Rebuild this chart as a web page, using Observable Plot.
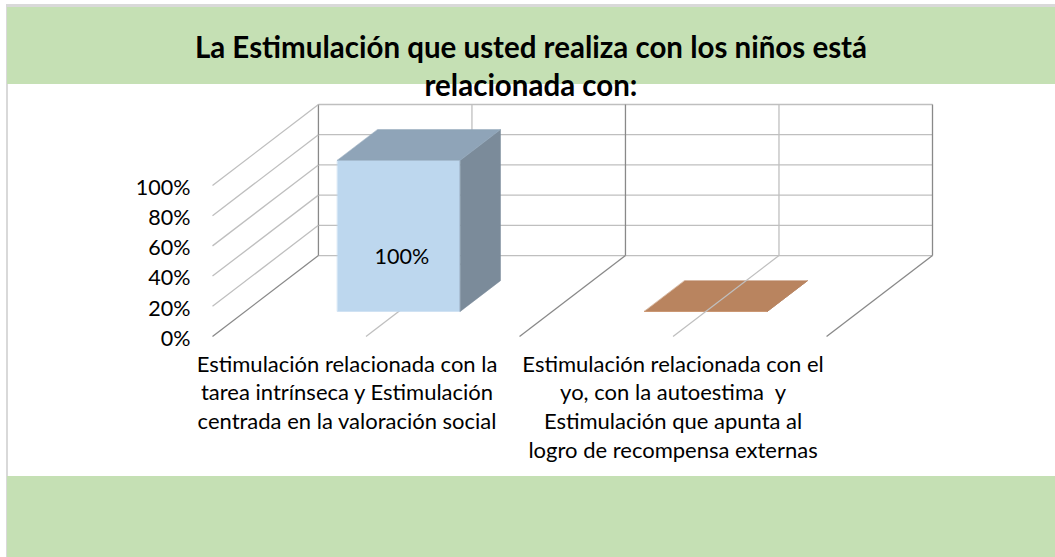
<!DOCTYPE html>
<html><head><meta charset="utf-8">
<script src="https://cdn.jsdelivr.net/npm/d3@7"></script>
<script src="https://cdn.jsdelivr.net/npm/@observablehq/plot@0.6"></script>
<style>
body{margin:0;background:#fff;}
#page{position:relative;width:1055px;height:557px;overflow:hidden;font-family:Lato,sans-serif;}
.bt{position:absolute;left:6px;top:4px;width:1049px;height:3px;background:#D9D9D9;}
.bl{position:absolute;left:6px;top:4px;width:1.5px;height:553px;background:#D9D9D9;}
.band{position:absolute;left:7px;right:0;background:#C5E0B4;}
#title{position:absolute;left:7px;right:0;top:28px;text-align:center;font-weight:bold;font-size:29.5px;line-height:38px;color:#000;z-index:2;}
#chart{position:absolute;left:0;top:0;z-index:1;}
</style></head>
<body>
<div id="page">
  <div class="bt"></div><div class="bl"></div>
  <div class="band" style="top:7px;height:77px"></div>
  <div class="band" style="top:476px;bottom:0"></div>
  <div id="title">La Estimulación que usted realiza con los niños está<br>relacionada con:</div>
  <div id="chart"></div>
</div>
<script>
// ---- data ----
const categories = [
  "Estimulación relacionada con la\ntarea intrínseca y Estimulación\ncentrada en la valoración social",
  "Estimulación relacionada con el\nyo, con la autoestima  y\nEstimulación que apunta al\nlogro de recompensa externas"
];
const values = [1, 0];
const yTicks = [0, 0.2, 0.4, 0.6, 0.8, 1];
const frontColors = ["#BDD7EE", "#F4B183"];
const sideColors = ["#7B8B9A", "#A0694A"];
const topColors = ["#8FA4B8", "#B9845F"];

// ---- oblique projection (view settings) ----
const DX = 0.345, DY = 0.536;          // depth offset in x / y units
const HALF = 0.2, D_BACK = 0.31, D_FRONT = 0.69;
const n = categories.length;
const P = (x, v, d) => ({x: x - DX * d, y: v - DY * d});

const light = "#BFBFBF", dark = "#898989";
const backLinks = [], floorLinks = [];
yTicks.forEach(v => backLinks.push({x1: 0, y1: v, x2: n, y2: v, c: light}));
d3.range(0, n + 0.01, 0.5).forEach(x => backLinks.push({x1: x, y1: 0, x2: x, y2: 1, c: Number.isInteger(x) ? dark : light}));
yTicks.filter(v => v > 0).forEach(v => { const a = P(0, v, 0), b = P(0, v, 1); floorLinks.push({x1: a.x, y1: a.y, x2: b.x, y2: b.y, c: light}); });
d3.range(0, n + 0.01, 0.5).forEach(x => { const a = P(x, 0, 0), b = P(x, 0, 1); floorLinks.push({x1: a.x, y1: a.y, x2: b.x, y2: b.y, c: Number.isInteger(x) ? dark : light}); });

const faces = [];
values.forEach((v, i) => {
  const cx = i + 0.5, l = cx - HALF, r = cx + HALF;
  const add = (id, fill, pts) => pts.forEach(p => faces.push({id: i + id, fill, flat: v === 0, ...p}));
  add("front", frontColors[i], [P(l, 0, D_FRONT), P(r, 0, D_FRONT), P(r, v, D_FRONT), P(l, v, D_FRONT)]);
  add("side", sideColors[i], [P(r, 0, D_FRONT), P(r, 0, D_BACK), P(r, v, D_BACK), P(r, v, D_FRONT)]);
  add("top", topColors[i], [P(l, v, D_FRONT), P(r, v, D_FRONT), P(r, v, D_BACK), P(l, v, D_BACK)]);
});
const faceMark = data => Plot.line(data, {x: "x", y: "y", z: "id", fill: "fill", stroke: "fill", strokeWidth: 0.5, curve: "linear-closed"});

const chart = Plot.plot({
  width: 1055, height: 557,
  marginLeft: 212, marginRight: 123, marginTop: 104, marginBottom: 221,
  x: {domain: [-DX, n], axis: null},
  y: {domain: [-DY, 1], axis: null},
  color: {type: "identity"},
  style: {background: "transparent", fontFamily: "Lato, sans-serif", fontSize: "21.5px", color: "#000", overflow: "visible"},
  marks: [
    Plot.link(backLinks, {x1: "x1", y1: "y1", x2: "x2", y2: "y2", stroke: "c", strokeWidth: 1.3}),
    faceMark(faces.filter(f => f.flat)),
    Plot.link(floorLinks, {x1: "x1", y1: "y1", x2: "x2", y2: "y2", stroke: "c", strokeWidth: 1.3}),
    faceMark(faces.filter(f => !f.flat)),
    Plot.text(yTicks, {x: () => -DX, y: v => v - DY, text: d3.format(".0%"), textAnchor: "end", dx: -22, dy: 2.5, fill: "#000"}),
    Plot.text(values.map((v, i) => ({v, i})).filter(d => d.v > 0), {
      x: d => d.i + 0.5 - DX * D_FRONT, y: d => d.v / 2 - DY * D_FRONT, text: d => d3.format(".0%")(d.v), dx: 3, dy: 21, fill: "#000"}),
    Plot.text(categories.slice(0, 1), {x: (d, i) => i + 0.5 - DX, y: () => -DY, text: d => d, lineAnchor: "top", dx: -19, dy: 15, lineHeight: 1.3, fontSize: 22, fill: "#000"}),
    Plot.text(categories.slice(1), {x: (d, i) => i + 1.5 - DX, y: () => -DY, text: d => d, lineAnchor: "top", dy: 15, lineHeight: 1.3, fontSize: 22, fill: "#000"})
  ]
});
document.getElementById("chart").append(chart);
</script>
</body></html>
